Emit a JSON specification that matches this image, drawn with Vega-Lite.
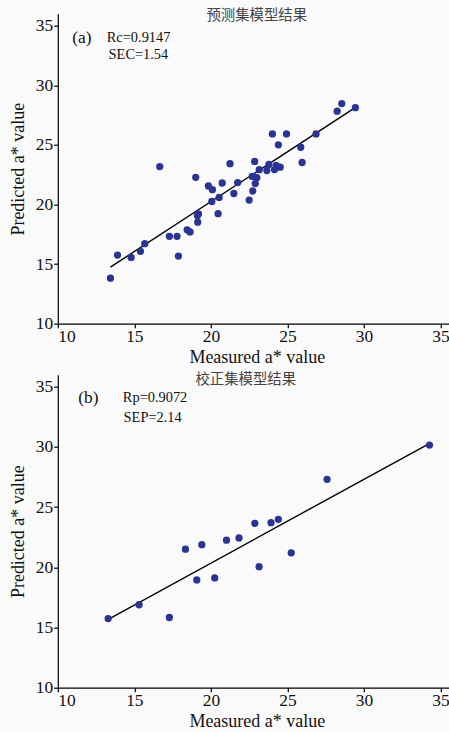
{
  "$schema": "https://vega.github.io/schema/vega-lite/v6.json",
  "background": "#fafafa",
  "padding": {"left": 8.8, "top": 7.7, "right": 0, "bottom": 3},
  "spacing": 5,
  "datasets": {
    "a": [
      {"m": 13.44, "p": 13.82}, {"m": 13.90, "p": 15.76}, {"m": 14.79, "p": 15.56}, {"m": 15.40, "p": 16.07},
      {"m": 15.68, "p": 16.71}, {"m": 16.66, "p": 23.18}, {"m": 17.29, "p": 17.33}, {"m": 17.79, "p": 17.33},
      {"m": 17.88, "p": 15.67}, {"m": 18.45, "p": 17.87}, {"m": 18.64, "p": 17.70}, {"m": 19.01, "p": 22.28},
      {"m": 19.12, "p": 19.07}, {"m": 19.19, "p": 19.21}, {"m": 19.14, "p": 18.51}, {"m": 19.84, "p": 21.55},
      {"m": 20.10, "p": 21.24}, {"m": 20.06, "p": 20.25}, {"m": 20.54, "p": 20.59}, {"m": 20.47, "p": 19.23},
      {"m": 20.74, "p": 21.80}, {"m": 21.25, "p": 23.42}, {"m": 21.50, "p": 20.92}, {"m": 21.75, "p": 21.84},
      {"m": 22.50, "p": 20.37}, {"m": 22.74, "p": 21.13}, {"m": 22.90, "p": 21.75}, {"m": 23.00, "p": 22.24},
      {"m": 22.70, "p": 22.35}, {"m": 22.86, "p": 23.61}, {"m": 23.16, "p": 22.92}, {"m": 23.66, "p": 22.85},
      {"m": 23.79, "p": 23.36}, {"m": 24.16, "p": 22.93}, {"m": 24.27, "p": 23.27}, {"m": 24.53, "p": 23.13},
      {"m": 24.02, "p": 25.92}, {"m": 24.94, "p": 25.92}, {"m": 24.41, "p": 25.0}, {"m": 25.87, "p": 24.80},
      {"m": 25.96, "p": 23.52}, {"m": 26.87, "p": 25.92}, {"m": 28.25, "p": 27.82}, {"m": 28.55, "p": 28.46},
      {"m": 29.44, "p": 28.12}
    ],
    "b": [
      {"m": 13.29, "p": 15.74}, {"m": 15.31, "p": 16.89}, {"m": 17.29, "p": 15.83}, {"m": 18.34, "p": 21.51},
      {"m": 19.08, "p": 18.95}, {"m": 19.41, "p": 21.88}, {"m": 20.25, "p": 19.12}, {"m": 21.02, "p": 22.25},
      {"m": 21.84, "p": 22.44}, {"m": 22.87, "p": 23.65}, {"m": 23.15, "p": 20.05}, {"m": 23.93, "p": 23.71},
      {"m": 24.41, "p": 23.99}, {"m": 25.25, "p": 21.20}, {"m": 27.59, "p": 27.31}, {"m": 34.28, "p": 30.15}
    ],
    "la": [{"m": 13.44, "p": 14.75}, {"m": 29.4, "p": 28.1}],
    "lb": [{"m": 13.3, "p": 15.68}, {"m": 34.15, "p": 30.2}],
    "one": [{}]
  },
  "config": {
    "view": {"stroke": null},
    "axis": {
      "grid": false,
      "domainColor": "#000",
      "tickColor": "#000",
      "labelColor": "#111",
      "titleColor": "#111",
      "labelFont": "Liberation Serif",
      "titleFont": "Liberation Serif",
      "labelFontSize": 17.4,
      "titleFontSize": 18,
      "titleFontWeight": "normal",
      "tickSize": 4.1,
      "domainWidth": 1.2,
      "tickWidth": 1.2
    },
    "axisX": {"labelPadding": 0, "titlePadding": 3},
    "axisY": {"labelPadding": 1, "titlePadding": 8.2},
    "title": {"font": "Noto Sans CJK SC", "fontSize": 14.4, "fontWeight": "normal", "color": "#444", "offset": -10}
  },
  "vconcat": [
    {
      "width": 398,
      "height": 310,
      "title": {"text": "预测集模型结果"},
      "layer": [
        {
          "data": {"name": "la"},
          "mark": {"type": "line", "color": "#000", "strokeWidth": 1.4},
          "encoding": {
            "x": {"field": "m", "type": "quantitative", "scale": {"domain": [10, 35]}, "axis": {"values": [10, 15, 20, 25, 30, 35], "title": "Measured a* value"}},
            "y": {"field": "p", "type": "quantitative", "scale": {"domain": [10, 35]}, "axis": {"values": [10, 15, 20, 25, 30, 35], "title": "Predicted a* value"}}
          }
        },
        {
          "data": {"name": "a"},
          "mark": {"type": "circle", "color": "#2a3593", "opacity": 1, "size": 53},
          "encoding": {
            "x": {"field": "m", "type": "quantitative"},
            "y": {"field": "p", "type": "quantitative"}
          }
        },
        {
          "data": {"name": "one"},
          "mark": {"type": "text", "text": "(a)", "font": "Liberation Serif", "fontSize": 17.4, "align": "center", "baseline": "middle", "color": "#111"},
          "encoding": {"x": {"datum": 11.57}, "y": {"datum": 34.0}}
        },
        {
          "data": {"name": "one"},
          "mark": {"type": "text", "text": "Rc=0.9147", "font": "Liberation Serif", "fontSize": 14.4, "align": "left", "baseline": "middle", "color": "#111"},
          "encoding": {"x": {"datum": 13.2}, "y": {"datum": 34.0}}
        },
        {
          "data": {"name": "one"},
          "mark": {"type": "text", "text": "SEC=1.54", "font": "Liberation Serif", "fontSize": 14.4, "align": "left", "baseline": "middle", "color": "#111"},
          "encoding": {"x": {"datum": 13.32}, "y": {"datum": 32.5}}
        }
      ]
    },
    {
      "width": 398,
      "height": 313,
      "title": {"text": "校正集模型结果", "dx": -11, "offset": -13},
      "layer": [
        {
          "data": {"name": "lb"},
          "mark": {"type": "line", "color": "#000", "strokeWidth": 1.4},
          "encoding": {
            "x": {"field": "m", "type": "quantitative", "scale": {"domain": [10, 35]}, "axis": {"values": [10, 15, 20, 25, 30, 35], "title": "Measured a* value"}},
            "y": {"field": "p", "type": "quantitative", "scale": {"domain": [10, 35]}, "axis": {"values": [10, 15, 20, 25, 30, 35], "title": "Predicted a* value"}}
          }
        },
        {
          "data": {"name": "b"},
          "mark": {"type": "circle", "color": "#2a3593", "opacity": 1, "size": 53},
          "encoding": {
            "x": {"field": "m", "type": "quantitative"},
            "y": {"field": "p", "type": "quantitative"}
          }
        },
        {
          "data": {"name": "one"},
          "mark": {"type": "text", "text": "(b)", "font": "Liberation Serif", "fontSize": 17.4, "align": "center", "baseline": "middle", "color": "#111"},
          "encoding": {"x": {"datum": 12.0}, "y": {"datum": 34.1}}
        },
        {
          "data": {"name": "one"},
          "mark": {"type": "text", "text": "Rp=0.9072", "font": "Liberation Serif", "fontSize": 14.4, "align": "left", "baseline": "middle", "color": "#111"},
          "encoding": {"x": {"datum": 14.25}, "y": {"datum": 34.1}}
        },
        {
          "data": {"name": "one"},
          "mark": {"type": "text", "text": "SEP=2.14", "font": "Liberation Serif", "fontSize": 14.4, "align": "left", "baseline": "middle", "color": "#111"},
          "encoding": {"x": {"datum": 14.3}, "y": {"datum": 32.4}}
        }
      ]
    }
  ]
}
